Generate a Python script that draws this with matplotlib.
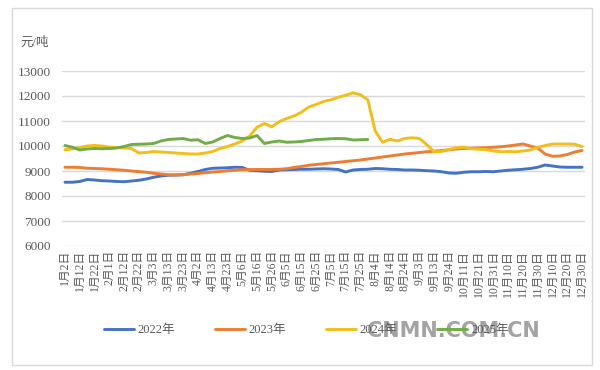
import matplotlib
matplotlib.use("Agg")
import matplotlib.pyplot as plt
from matplotlib.patches import Rectangle

# dates shown on the category axis (one label every 2 points)
tick_labels = ["1月2日", "1月12日", "1月22日", "2月1日", "2月12日", "2月22日",
               "3月3日", "3月13日", "3月23日", "4月2日", "4月13日", "4月23日",
               "5月6日", "5月16日", "5月26日", "6月5日", "6月15日", "6月25日",
               "7月5日", "7月15日", "7月25日", "8月4日", "8月14日", "8月24日",
               "9月3日", "9月13日", "9月24日", "10月11日", "10月21日", "10月31日",
               "11月10日", "11月20日", "11月30日", "12月10日", "12月20日", "12月30日"]

y2022 = [8550, 8550, 8580, 8660, 8640, 8610, 8600, 8580, 8570, 8600,
         8630, 8680, 8750, 8800, 8830, 8840, 8850, 8910, 8980, 9060,
         9110, 9120, 9130, 9150, 9140, 9030, 9010, 8990, 8980, 9040,
         9050, 9060, 9070, 9070, 9080, 9090, 9080, 9060, 8960, 9040,
         9060, 9070, 9100, 9090, 9070, 9060, 9040, 9040, 9030, 9010,
         9000, 8970, 8920, 8910, 8950, 8970, 8970, 8980, 8970, 9000,
         9030, 9050, 9070, 9100, 9150, 9240, 9200, 9160, 9150, 9150,
         9150]

y2023 = [9150, 9150, 9140, 9110, 9100, 9090, 9070, 9050, 9030, 9000,
         8975, 8950, 8910, 8880, 8850, 8840, 8850, 8880, 8900, 8930,
         8960, 8980, 9010, 9030, 9050, 9060, 9060, 9060, 9060, 9070,
         9090, 9140, 9180, 9230, 9260, 9290, 9320, 9350, 9380, 9410,
         9440, 9480, 9520, 9560, 9600, 9640, 9680, 9710, 9740, 9770,
         9790, 9820, 9850, 9880, 9900, 9910, 9920, 9930, 9950, 9970,
         10000, 10040, 10080, 10000, 9920, 9680, 9590, 9600, 9660, 9760,
         9820]

y2024 = [9850, 9880, 9940, 10000, 10020, 10000, 9950, 9940, 9920, 9900,
         9720, 9740, 9780, 9760, 9740, 9720, 9700, 9680, 9680, 9720,
         9780, 9900, 9980, 10080, 10200, 10400, 10750, 10900, 10770, 10970,
         11100, 11200, 11350, 11560, 11660, 11780, 11850, 11950, 12030, 12130,
         12050, 11850, 10600, 10150, 10270, 10200, 10300, 10330, 10300, 10050,
         9760, 9780, 9860, 9930, 9950, 9890, 9870, 9860, 9800, 9770,
         9780, 9770, 9800, 9840, 9950, 10020, 10080, 10080, 10080, 10070,
         9980]

y2025 = [10020, 9950, 9840, 9880, 9900, 9890, 9900, 9920, 9980, 10060,
         10070, 10080, 10100, 10200, 10260, 10280, 10300, 10230, 10250, 10100,
         10160, 10300, 10420, 10340, 10300, 10320, 10420, 10100, 10160, 10200,
         10150, 10160, 10180, 10220, 10260, 10270, 10290, 10300, 10290, 10240,
         10250, 10260]

series = [("2022年", y2022, "#4472C4"),
          ("2023年", y2023, "#ED7D31"),
          ("2024年", y2024, "#F2BE1A"),
          ("2025年", y2025, "#70AD47")]

fnt = ["Liberation Serif", "Noto Sans CJK SC"]
grey = "#595959"

fig = plt.figure(figsize=(6, 3.7), dpi=100)
fig.patches.append(Rectangle((12 / 600, 5 / 370), 580 / 600, 357 / 370,
                             transform=fig.transFigure, fill=False,
                             edgecolor="#d9d9d9", lw=1))
ax = fig.add_axes([62 / 600, 1 - 246 / 370, 523 / 600, 175 / 370])

for name, vals, col in series:
    ax.plot(range(len(vals)), vals, color=col, lw=2.1, label=name,
            solid_capstyle="round")

ax.set_ylim(6000, 13000)
ax.set_yticks(range(6000, 13001, 1000))
ax.set_xlim(-0.4, 70.4)
ax.set_xticks(range(0, 71, 2))
ax.set_xticklabels(tick_labels, rotation=90, family=fnt, fontsize=8.5, color=grey)
for t in ax.get_yticklabels():
    t.set_family(fnt)
    t.set_fontsize(9.5)
    t.set_color(grey)
ax.tick_params(length=0)
ax.tick_params(axis="y", pad=8)
ax.tick_params(axis="x", pad=3)
ax.grid(axis="y", color="#d9d9d9", lw=1)
ax.set_axisbelow(True)
for s in ax.spines.values():
    s.set_visible(False)

fig.text(20 / 600, 1 - 43 / 370, "元/吨", family=fnt, fontsize=9, color=grey,
         va="center")

leg = fig.legend(loc="center", bbox_to_anchor=(0.51, 1 - 330 / 370), ncol=4,
                 frameon=False, handlelength=2.4, columnspacing=3.2,
                 handletextpad=0.3, prop={"family": fnt, "size": 9})
for t in leg.get_texts():
    t.set_color(grey)

# site watermark sitting over the legend
fig.text(453 / 600, 1 - 331 / 370, "CNMN.COM.CN", fontsize=15, color="#8c8c8c",
         fontweight="bold", alpha=0.8, ha="center", va="center",
         family="DejaVu Sans")

fig.savefig("out.png", dpi=100)
